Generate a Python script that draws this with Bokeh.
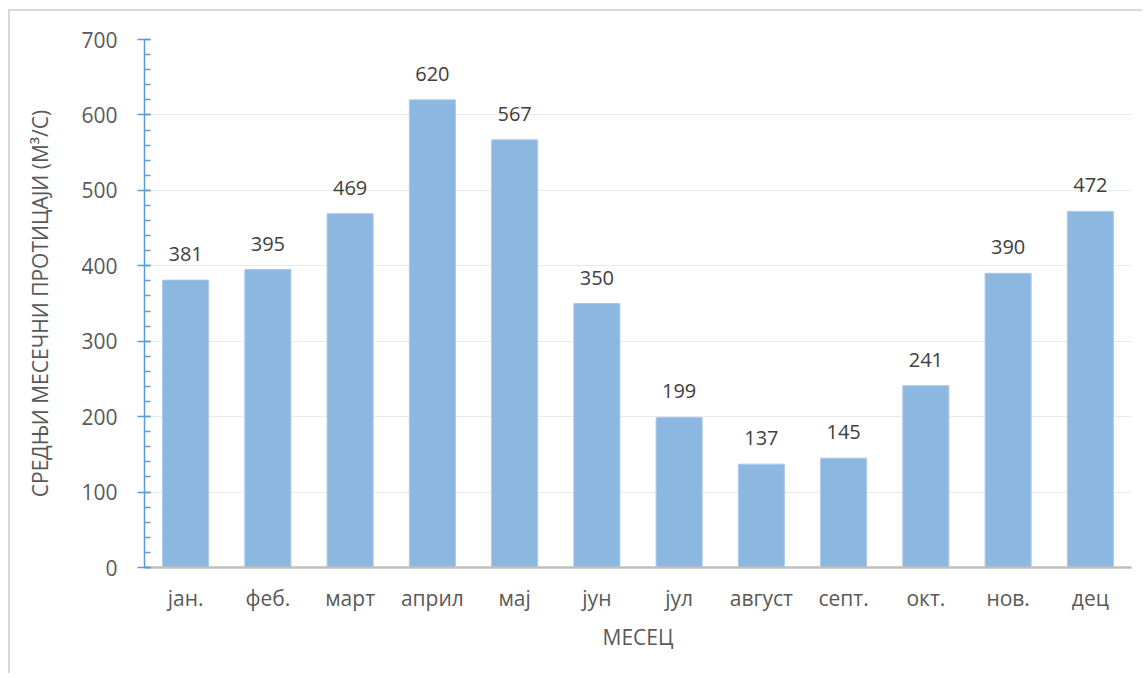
from bokeh.plotting import figure
from bokeh.models import ColumnDataSource, FactorRange, Range1d, SingleIntervalTicker, LabelSet
from bokeh.core.properties import value
from bokeh.embed import file_html
from bokeh.resources import INLINE

months = ["јан.", "феб.", "март", "април", "мај", "јун", "јул", "август", "септ.", "окт.", "нов.", "дец"]
flows = [381, 395, 469, 620, 567, 350, 199, 137, 145, 241, 390, 472]

src = ColumnDataSource(dict(m=months, v=flows, t=[str(v) for v in flows]))

FONT = "Open Sans"
p = figure(x_range=FactorRange(*months, range_padding=0), y_range=Range1d(0, 700),
           width=1134, height=664, output_backend="svg", toolbar_location=None,
           min_border_left=134, min_border_right=13, min_border_top=28, min_border_bottom=108,
           styles={"border-left": "2px solid #d9d9d9", "border-top": "2px solid #d9d9d9",
                   "margin-left": "8px", "margin-top": "9px"})
p.outline_line_color = None

p.vbar(x="m", top="v", width=0.56, source=src, fill_color="#8cb7e1", line_color="#a9c9ea", line_width=1)

labels = LabelSet(x="m", y="v", text="t", source=src, text_align="center", text_baseline="bottom",
                  y_offset=19, text_font=value(FONT), text_font_size="20px", text_color="#404040")
p.add_layout(labels)

p.xgrid.grid_line_color = None
p.ygrid.grid_line_color = "#eaeaea"
p.ygrid.grid_line_width = 1

ya = p.yaxis[0]
ya.ticker = SingleIntervalTicker(interval=100, num_minor_ticks=5)
ya.axis_line_color = "#5b9bd5"
ya.axis_line_width = 1.5
ya.major_tick_line_color = "#5b9bd5"
ya.major_tick_line_width = 1.5
ya.minor_tick_line_color = "#5b9bd5"
ya.minor_tick_line_width = 1.5
ya.major_tick_out = 7
ya.major_tick_in = 6
ya.minor_tick_in = 6
ya.minor_tick_out = 0
ya.major_label_text_font = FONT
ya.major_label_text_font_size = "21px"
ya.major_label_text_color = "#595959"
ya.major_label_standoff = 20
ya.axis_label = "СРЕДЊИ МЕСЕЧНИ ПРОТИЦАЈИ (М³/С)"
ya.axis_label_text_font = FONT
ya.axis_label_text_font_size = "21px"
ya.axis_label_text_font_style = "normal"
ya.axis_label_text_color = "#595959"
ya.axis_label_standoff = 24

xa = p.xaxis[0]
xa.axis_line_color = "#bfbfbf"
xa.axis_line_width = 2.5
xa.major_tick_line_color = None
xa.minor_tick_line_color = None
xa.major_label_text_font = FONT
xa.major_label_text_font_size = "21px"
xa.major_label_text_color = "#595959"
xa.major_label_standoff = 10
xa.axis_label = "МЕСЕЦ"
xa.axis_label_text_font = FONT
xa.axis_label_text_font_size = "21px"
xa.axis_label_text_font_style = "normal"
xa.axis_label_text_color = "#595959"
xa.axis_label_standoff = 8

open("out.html", "w").write(file_html(p, INLINE))
